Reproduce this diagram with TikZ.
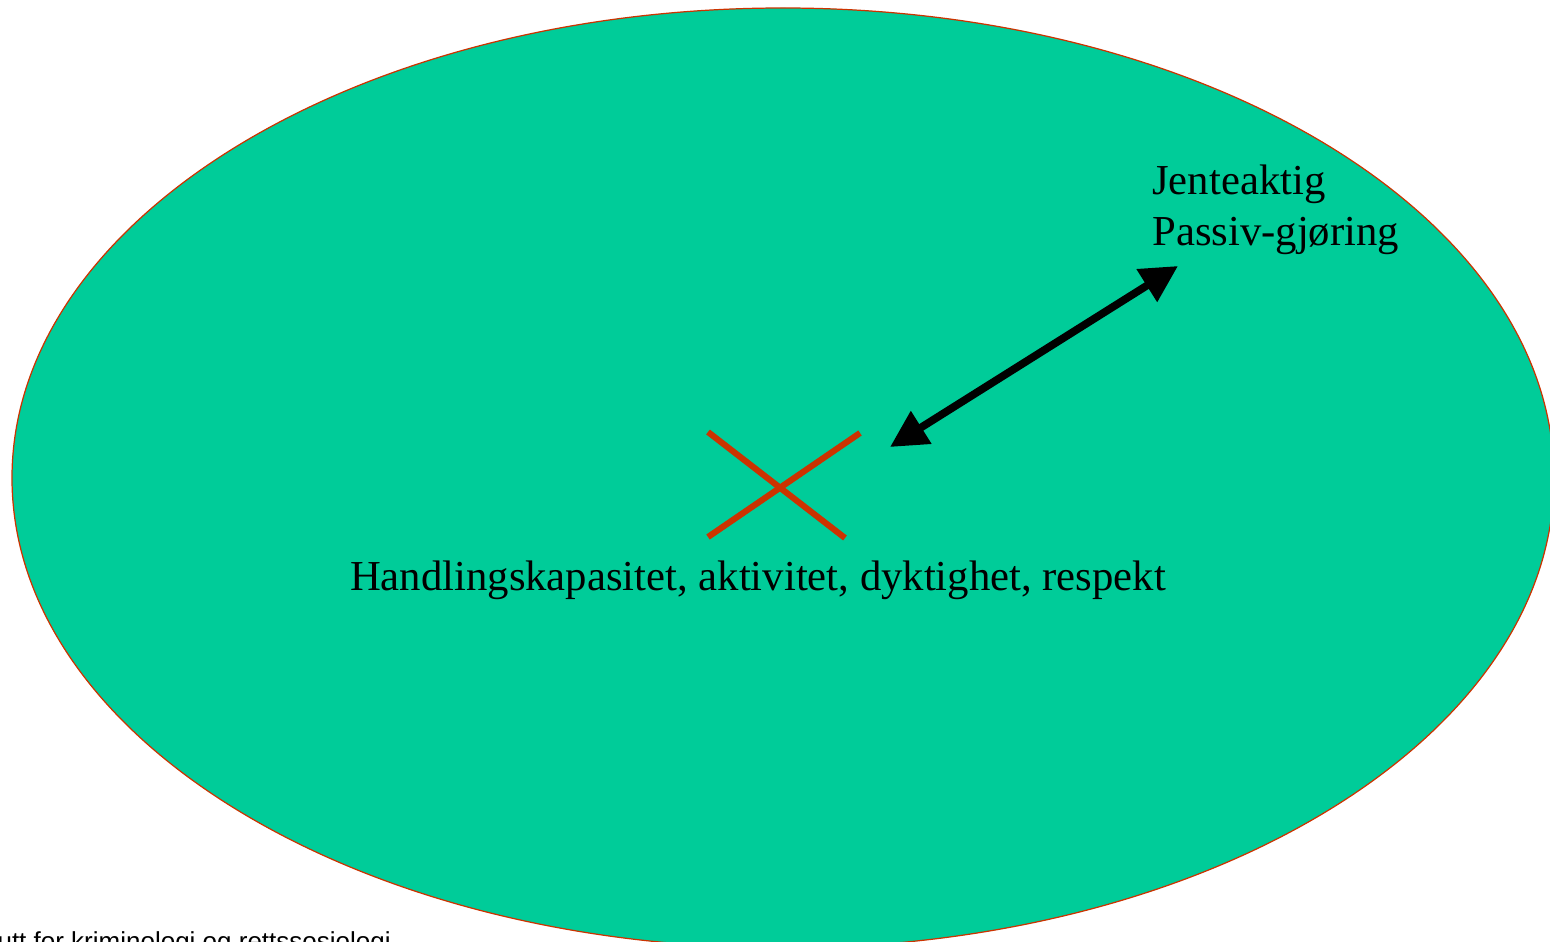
\documentclass[tikz,border=0pt]{standalone}
\usepackage{fontspec}
\setmainfont{Liberation Serif}
\setsansfont{Liberation Sans}
\usetikzlibrary{arrows.meta}
\definecolor{gronn}{RGB}{0,204,153}
\definecolor{rodkant}{RGB}{204,51,0}
\tikzset{
  >={Triangle[length=21pt,width=21pt]},
  flate/.style={fill=gronn, draw=rodkant, line width=0.7pt},
  kryss/.style={draw=rodkant, line width=3.5pt},
  pil/.style={draw, line width=4.4pt, <->},
  tekst/.style={font=\fontsize{24.3}{28.5}\selectfont, inner sep=0pt},
  fot/.style={font=\sffamily\fontsize{14.8}{17}\selectfont, inner sep=0pt},
}

\begin{document}
\begin{tikzpicture}[x=0.02cm, y=-0.02cm]
  \useasboundingbox (0,0) rectangle (1550,942);
  \clip (0,0) rectangle (1550,942);
  \fill[white] (0,0) rectangle (1550,942);
  % flata
  \draw[flate] (783,478) ellipse [x radius=771, y radius=470];
  % krysset
  \draw[kryss] (708,432) -- (845,538);
  \draw[kryss] (708,537) -- (860,433);
  % tekster
  \node[tekst, anchor=base] (handling) at (758,590)
    {Handlingskapasitet, aktivitet, dyktighet, respekt};
  \node[tekst, anchor=north west, align=left] (jente) at (1152,165)
    {Jenteaktig\\Passiv-gjøring};
  \node[fot, anchor=base east] (institutt) at (391,950)
    {Institutt for kriminologi og rettssosiologi};
  % pila
  \coordinate (pilstart) at (890,447);
  \coordinate (pilslutt) at (1178,266);
  \draw[pil] (pilstart) -- (pilslutt);
\end{tikzpicture}
\end{document}
